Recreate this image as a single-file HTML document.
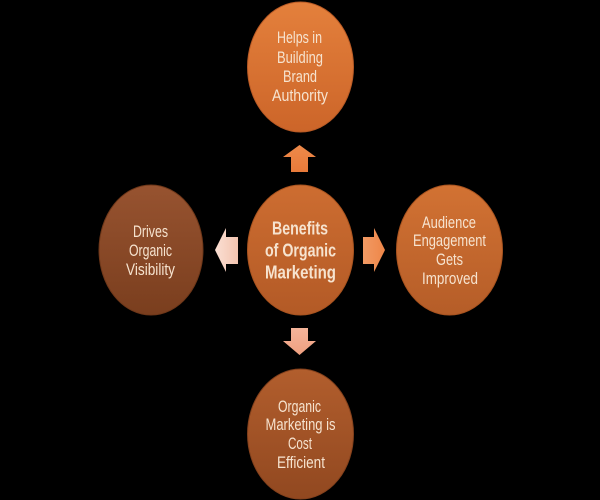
<!DOCTYPE html>
<html><head><meta charset="utf-8"><style>
html,body{margin:0;padding:0;background:#000;}
svg{display:block;}
text{font-family:"Liberation Sans",sans-serif;fill:#f6e3cf;text-anchor:middle;}
</style></head><body>
<svg width="600" height="500" viewBox="0 0 600 500" xmlns="http://www.w3.org/2000/svg">
<defs>
<linearGradient id="gTop" x1="0" y1="0" x2="0" y2="1"><stop offset="0" stop-color="#e4803c"/><stop offset="1" stop-color="#cc6529"/></linearGradient>
<linearGradient id="gCen" x1="0" y1="0" x2="0" y2="1"><stop offset="0" stop-color="#cd6d31"/><stop offset="1" stop-color="#b35a26"/></linearGradient>
<linearGradient id="gLeft" x1="0" y1="0" x2="0" y2="1"><stop offset="0" stop-color="#975330"/><stop offset="1" stop-color="#7a3e1e"/></linearGradient>
<linearGradient id="gRight" x1="0" y1="0" x2="0" y2="1"><stop offset="0" stop-color="#d27233"/><stop offset="1" stop-color="#b55d28"/></linearGradient>
<linearGradient id="gBot" x1="0" y1="0" x2="0" y2="1"><stop offset="0" stop-color="#b25e2d"/><stop offset="1" stop-color="#914820"/></linearGradient>
<linearGradient id="aUp" x1="0" y1="0" x2="0" y2="1"><stop offset="0" stop-color="#ee8a4a"/><stop offset="1" stop-color="#e87a3a"/></linearGradient>
<linearGradient id="aRight" x1="0" y1="0" x2="1" y2="0"><stop offset="0" stop-color="#f29a64"/><stop offset="1" stop-color="#ee8648"/></linearGradient>
<linearGradient id="aDown" x1="0" y1="0" x2="0" y2="1"><stop offset="0" stop-color="#f4b49a"/><stop offset="1" stop-color="#f0a080"/></linearGradient>
<linearGradient id="aLeft" x1="0" y1="0" x2="1" y2="0"><stop offset="0" stop-color="#fbe0d4"/><stop offset="1" stop-color="#f3c4b0"/></linearGradient>
</defs>
<rect width="600" height="500" fill="#000"/>

<!-- ellipses -->
<ellipse cx="300.5" cy="67" rx="53" ry="65" fill="url(#gTop)" stroke="#b85a25" stroke-width="1"/>
<ellipse cx="300.5" cy="250" rx="53" ry="65" fill="url(#gCen)" stroke="#a8531f" stroke-width="1"/>
<ellipse cx="151" cy="250" rx="52" ry="65" fill="url(#gLeft)" stroke="#6e3719" stroke-width="1"/>
<ellipse cx="449.5" cy="250" rx="53" ry="65" fill="url(#gRight)" stroke="#a8531f" stroke-width="1"/>
<ellipse cx="300.5" cy="434" rx="53" ry="65" fill="url(#gBot)" stroke="#83401c" stroke-width="1"/>

<!-- arrows -->
<polygon points="299.5,145 316,157 308,157 308,172 291,172 291,157 283,157" fill="url(#aUp)"/>
<polygon points="385,250 374,272 374,264 363,264 363,237 374,237 374,228" fill="url(#aRight)"/>
<polygon points="299.5,355 316,341 308,341 308,328 291,328 291,341 283,341" fill="url(#aDown)"/>
<polygon points="215,250 226,228 226,237 238,237 238,264 226,264 226,272" fill="url(#aLeft)"/>

<!-- top text -->
<g font-size="17">
<text x="299.5" y="43" textLength="45" lengthAdjust="spacingAndGlyphs">Helps in</text>
<text x="300" y="63" textLength="46" lengthAdjust="spacingAndGlyphs">Building</text>
<text x="300" y="82" textLength="34" lengthAdjust="spacingAndGlyphs">Brand</text>
<text x="300" y="101" textLength="56" lengthAdjust="spacingAndGlyphs">Authority</text>
</g>
<!-- center -->
<g font-size="18.5" font-weight="bold">
<text x="300" y="234.5" textLength="56" lengthAdjust="spacingAndGlyphs">Benefits</text>
<text x="300.5" y="256.5" textLength="71" lengthAdjust="spacingAndGlyphs">of Organic</text>
<text x="300.5" y="278.5" textLength="71" lengthAdjust="spacingAndGlyphs">Marketing</text>
</g>
<!-- left -->
<g font-size="17">
<text x="150.5" y="237" textLength="35" lengthAdjust="spacingAndGlyphs">Drives</text>
<text x="150.5" y="256" textLength="43" lengthAdjust="spacingAndGlyphs">Organic</text>
<text x="150.5" y="275" textLength="49" lengthAdjust="spacingAndGlyphs">Visibility</text>
</g>
<!-- right -->
<g font-size="17">
<text x="449" y="228" textLength="54" lengthAdjust="spacingAndGlyphs">Audience</text>
<text x="449.5" y="246" textLength="73" lengthAdjust="spacingAndGlyphs">Engagement</text>
<text x="449.5" y="265" textLength="27" lengthAdjust="spacingAndGlyphs">Gets</text>
<text x="450" y="284" textLength="56" lengthAdjust="spacingAndGlyphs">Improved</text>
</g>
<!-- bottom -->
<g font-size="17">
<text x="299.5" y="412" textLength="43" lengthAdjust="spacingAndGlyphs">Organic</text>
<text x="300.5" y="430" textLength="70" lengthAdjust="spacingAndGlyphs">Marketing is</text>
<text x="300" y="449" textLength="24" lengthAdjust="spacingAndGlyphs">Cost</text>
<text x="301" y="468" textLength="48" lengthAdjust="spacingAndGlyphs">Efficient</text>
</g>
</svg>
</body></html>
